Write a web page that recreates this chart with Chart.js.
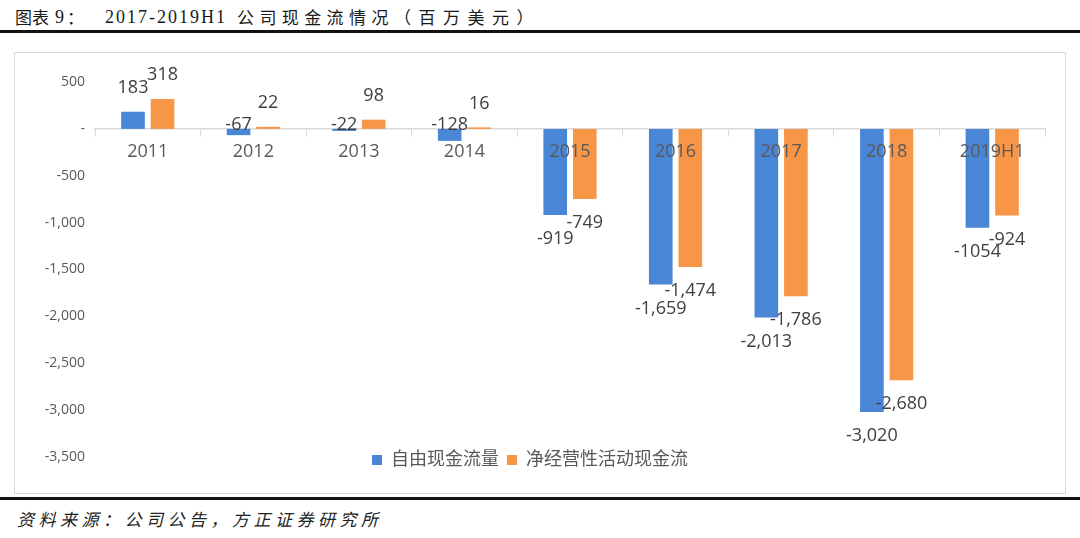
<!DOCTYPE html>
<html>
<head>
<meta charset="utf-8">
<script src="https://cdn.jsdelivr.net/npm/chart.js@4"></script>
<style>
  html, body { margin: 0; padding: 0; background: #fff; }
  body { width: 1080px; height: 538px; position: relative; overflow: hidden; }
  #title span {
    position: absolute; top: 5px; line-height: 24px; white-space: nowrap;
    font-family: 'Noto Sans CJK SC', sans-serif; font-size: 17px; color: #1a1a1a;
  }
  #title .lat { font-family: 'Liberation Serif', serif; font-size: 18px; letter-spacing: 2px; }
  .rule { position: absolute; left: 0; width: 1080px; height: 3px; background: #111; }
  #box {
    position: absolute; left: 14px; top: 52px; width: 1050px; height: 440px;
    border: 1px solid #d9d9d9;
  }
  #source {
    position: absolute; left: 17px; top: 507px;
    font-family: 'Noto Sans CJK SC', sans-serif; font-style: italic; font-size: 17px;
    letter-spacing: 4.5px; color: #222; white-space: nowrap; line-height: 24px;
  }
</style>
</head>
<body>
<div id="title">
  <span style="left:15px">图表</span>
  <span class="lat" style="left:55px">9</span>
  <span style="left:67px">：</span>
  <span class="lat" style="left:105px">2017-2019H1</span>
  <span style="left:237px; letter-spacing:5.4px">公司现金流情况</span>
  <span style="left:394px; letter-spacing:7.5px">（百万美元）</span>
</div>
<div class="rule" style="top:30px"></div>
<div id="box"><canvas id="cashChart" width="1050" height="440"></canvas></div>
<div class="rule" style="top:497px"></div>
<div id="source">资料来源：公司公告，方正证券研究所</div>

<script>
// 公司现金流（百万美元）
const categories = ['2011', '2012', '2013', '2014', '2015', '2016', '2017', '2018', '2019H1'];
const freeCashFlow = [183, -67, -22, -128, -919, -1659, -2013, -3020, -1054];
const operatingCashFlow = [318, 22, 98, 16, -749, -1474, -1786, -2680, -924];
const freeCashLabels = ['183', '-67', '-22', '-128', '-919', '-1,659', '-2,013', '-3,020', '-1054'];
const operatingCashLabels = ['318', '22', '98', '16', '-749', '-1,474', '-1,786', '-2,680', '-924'];
const seriesNames = ['自由现金流量', '净经营性活动现金流'];

const FONT = "'Open Sans', 'Noto Sans CJK SC', sans-serif";

// 数据标签（类似 Excel 外侧标签）
const valueLabels = {
    id: 'valueLabels',
    afterDatasetsDraw(chart) {
        const ctx = chart.ctx;
        const zeroY = chart.scales.y.getPixelForValue(0);
        const allLabels = [freeCashLabels, operatingCashLabels];
        ctx.save();
        ctx.font = '18px ' + FONT;
        ctx.fillStyle = '#404040';
        ctx.textAlign = 'center';
        ctx.textBaseline = 'middle';
        chart.data.datasets.forEach((ds, di) => {
            chart.getDatasetMeta(di).data.forEach((bar, i) => {
                const v = ds.data[i];
                let y;
                if (v >= 0) y = bar.y - 24;
                else if (v > -200) y = zeroY - 4;
                else y = bar.y + 24;
                ctx.fillText(allLabels[di][i], bar.x, y);
            });
        });
        ctx.restore();
    }
};

// 图例略微上移，与 Excel 原图一致
const legendShift = {
    id: 'legendShift',
    afterLayout(chart) {
        chart.legend.top -= 14;
        chart.legend.bottom -= 14;
    }
};

const ctx = document.getElementById('cashChart').getContext('2d');
const cashChart = new Chart(ctx, {
    type: 'bar',
    data: {
        labels: categories,
        datasets: [{
            label: seriesNames[0],
            data: freeCashFlow,
            backgroundColor: '#4a86d6'
        }, {
            label: seriesNames[1],
            data: operatingCashFlow,
            backgroundColor: '#f79646'
        }]
    },
    options: {
        responsive: false,
        animation: false,
        categoryPercentage: 0.56,
        barPercentage: 0.8,
        layout: { padding: { left: 0, right: 20, top: 29, bottom: 0 } },
        plugins: {
            legend: {
                position: 'bottom',
                labels: {
                    boxWidth: 10,
                    boxHeight: 10,
                    padding: 8,
                    color: '#595959',
                    font: { family: FONT, size: 18 }
                }
            },
            tooltip: { enabled: false }
        },
        scales: {
            x: {
                position: { y: 0 },
                grid: {
                    offset: true,
                    drawOnChartArea: false,
                    tickLength: 7,
                    color: '#d9d9d9'
                },
                border: { color: '#d9d9d9', width: 1.5 },
                ticks: {
                    z: 1,
                    padding: 5,
                    color: '#595959',
                    font: { family: FONT, size: 18 },
                    maxRotation: 0
                }
            },
            y: {
                min: -3500,
                max: 500,
                grid: { display: false, drawTicks: false },
                border: { display: false },
                ticks: {
                    stepSize: 500,
                    padding: 10,
                    color: '#595959',
                    font: { family: FONT, size: 14 },
                    callback: v => v === 0 ? '-' : v.toLocaleString('en-US')
                },
                afterFit(scale) { scale.width = 80; }
            }
        }
    },
    plugins: [valueLabels, legendShift]
});
</script>
</body>
</html>
